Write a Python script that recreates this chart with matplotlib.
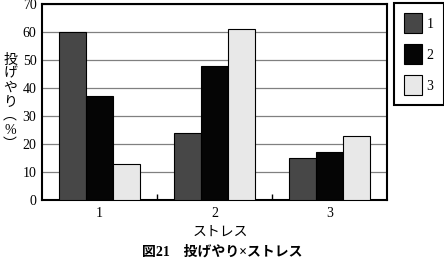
import numpy as np
import matplotlib.pyplot as plt

plt.rcParams['font.family'] = ['Liberation Serif', 'Noto Sans CJK JP']

# data
categories = ['1', '2', '3']
series_names = ['1', '2', '3']
vals_1 = [60, 24, 15]
vals_2 = [37, 48, 17]
vals_3 = [13, 61, 23]
yticks = [0, 10, 20, 30, 40, 50, 60, 70]

colors = ['#474747', '#050505', '#e8e8e8']

fig = plt.figure(figsize=(4.44, 2.61), dpi=100)
ax = fig.add_axes([42 / 444, 1 - 200 / 261, 345 / 444, 196 / 261])

x = np.arange(len(categories))
w = 0.235
for i, (vals, name) in enumerate(zip([vals_1, vals_2, vals_3], series_names)):
    ax.bar(x + (i - 1) * w, vals, width=w, color=colors[i], edgecolor='black',
           linewidth=0.8, label=name, zorder=3)

ax.set_xlim(-0.5, 2.5)
ax.set_ylim(0, 70)
ax.set_yticks(yticks)
ax.yaxis.grid(True, color='#808080', linewidth=0.9, zorder=0)
ax.set_xticks(x)
ax.set_xticklabels(categories, fontsize=10)
ax.tick_params(axis='x', length=0, pad=5)
ax.tick_params(axis='y', labelsize=10, length=0, pad=4)
# category separator ticks on the bottom axis
ax.set_xticks([0.5, 1.5], minor=True)
ax.tick_params(axis='x', which='minor', direction='in', length=4, width=1)
for s in ax.spines.values():
    s.set_linewidth(1.5)

fig.text(10 / 444, 1 - 102 / 261, '投\nげ\nや\nり\n︵\n%\n︶', ha='center', va='center',
         fontsize=10, linespacing=1.1)
fig.text(220 / 444, 1 - 232 / 261, 'ストレス', ha='center', va='center', fontsize=10)
fig.text(222 / 444, 1 - 252 / 261, '図21　投げやり×ストレス', ha='center', va='center',
         fontsize=10, fontweight='bold')

leg = fig.legend(loc='upper left', bbox_to_anchor=(394 / 444, 1 - 3 / 261),
                 fancybox=False, edgecolor='black', framealpha=1,
                 handlelength=1.3, handleheight=1.75, labelspacing=0.85,
                 handletextpad=0.3, borderpad=0.75, borderaxespad=0, fontsize=10)
leg.get_frame().set_linewidth(1.5)

fig.savefig('out.png', dpi=100)
